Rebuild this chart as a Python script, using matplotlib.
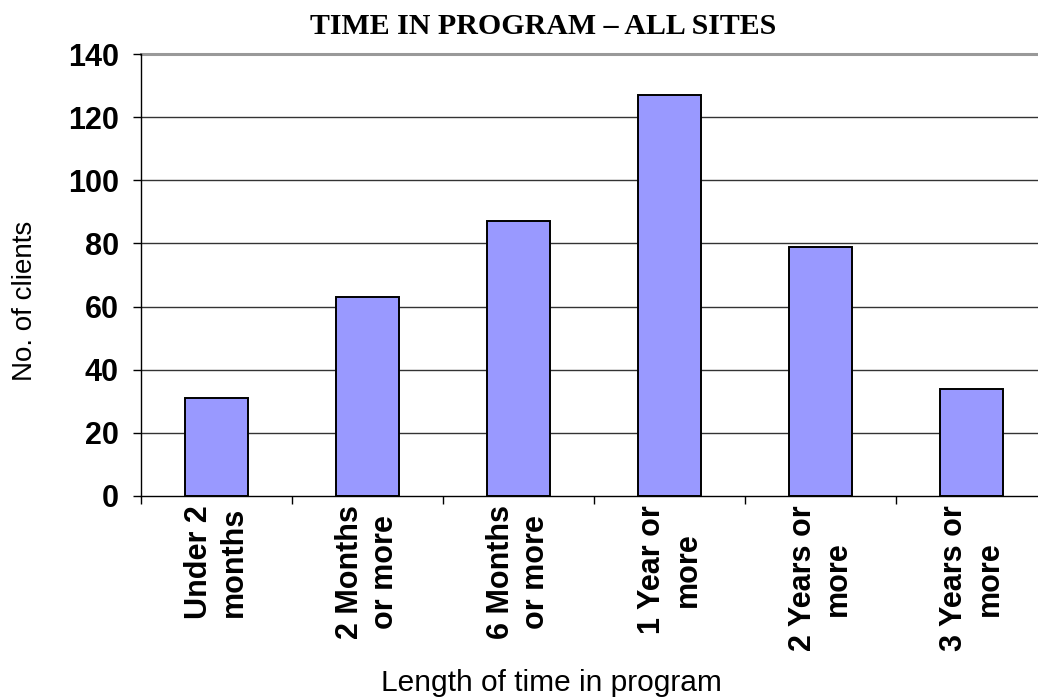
import matplotlib
matplotlib.use("Agg")
import matplotlib.pyplot as plt
import numpy as np

# Data
categories = ["Under 2\nmonths", "2 Months\nor more", "6 Months\nor more",
              "1 Year or\nmore", "2 Years or\nmore", "3 Years or\nmore"]
clients = [31, 63, 87, 127, 79, 34]
y_ticks = [0, 20, 40, 60, 80, 100, 120, 140]

title = "TIME IN PROGRAM \u2013 ALL SITES"
x_label = "Length of time in program"
y_label = "No. of clients"

W, H = 1038, 700
fig = plt.figure(figsize=(W / 100, H / 100), dpi=100)
fig.patch.set_facecolor("white")

# plot area in pixel units (right edge runs past the figure edge)
left_px, right_px, top_px, bottom_px = 141, 1047, 54.3, 495.7
ax = fig.add_axes([left_px / W, 1 - bottom_px / H,
                   (right_px - left_px) / W, (bottom_px - top_px) / H])

x = np.arange(len(categories))
ax.bar(x, clients, width=0.42, color="#9999FF", edgecolor="black",
       linewidth=1.4, zorder=3)

ax.set_xlim(-0.5, len(categories) - 0.5)
ax.set_ylim(0, 140)

# gridlines
for v in y_ticks[1:-1]:
    ax.axhline(v, color="#333333", linewidth=1.0, zorder=1)
ax.axhline(140, color="#999999", linewidth=2.2, zorder=1, clip_on=False)

for s in ["top", "right"]:
    ax.spines[s].set_visible(False)
ax.spines["left"].set_color("black")
ax.spines["left"].set_linewidth(1.0)
ax.spines["bottom"].set_color("black")
ax.spines["bottom"].set_linewidth(1.0)
ax.spines["bottom"].set_zorder(4)

ax.set_yticks(y_ticks)
ax.set_yticklabels([str(v) for v in y_ticks], fontsize=22,
                   fontweight="bold", family="Liberation Sans")
ax.tick_params(axis="y", direction="out", length=6, width=1, pad=10,
               colors="black")

ax.set_xticks(x)
ax.set_xticklabels(categories, rotation=90, fontsize=22, fontweight="bold",
                   family="Liberation Sans", ha="center", va="top",
                   multialignment="center", linespacing=1.25)
ax.set_xticks(np.arange(len(categories)) - 0.5, minor=True)
ax.tick_params(axis="x", which="major", length=0, pad=7)
ax.tick_params(axis="x", which="minor", direction="out", length=6, width=1,
               colors="black")

fig.text(543 / W, 1 - 26 / H, title, ha="center", va="center",
         fontsize=21.5, fontweight="bold", family="Liberation Serif")
fig.text(551 / W, 1 - 683 / H, x_label, ha="center", va="center",
         fontsize=21.5, family="Liberation Sans")
fig.text(25 / W, 1 - 301 / H, y_label, ha="center", va="center",
         rotation=90, fontsize=20, family="Liberation Sans")

fig.savefig("out.png", dpi=100, facecolor="white")
